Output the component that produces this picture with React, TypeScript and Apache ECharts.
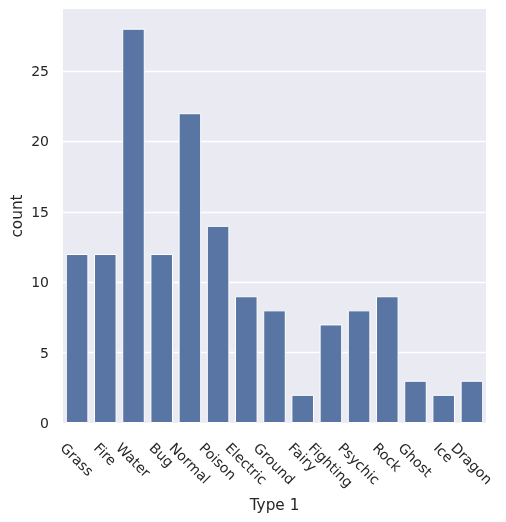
import React, { useEffect, useRef } from "react";
import * as echarts from "echarts";

const categories = ["Grass", "Fire", "Water", "Bug", "Normal", "Poison", "Electric", "Ground", "Fairy", "Fighting", "Psychic", "Rock", "Ghost", "Ice", "Dragon"];
const counts = [12, 12, 28, 12, 22, 14, 9, 8, 2, 7, 8, 9, 3, 2, 3];
const yTicks = { min: 0, max: 29.4, interval: 5 };

const FONT = "DejaVu Sans";
const TICK_SIZE = 14;
const LABEL_SIZE = 15.3;
const TEXT = "#262626";

function measure(text: string, size: number): number {
  const c = document.createElement("canvas");
  const ctx = c.getContext("2d");
  if (!ctx) return text.length * size * 0.6;
  ctx.font = `${size}px "${FONT}"`;
  return ctx.measureText(text).width;
}

export default function App() {
  const ref = useRef<HTMLDivElement>(null);
  useEffect(() => {
    if (!ref.current) return;
    const chart = echarts.init(ref.current, undefined, { renderer: "svg" });
    // matplotlib-style rotated labels: bbox centred on the tick, bbox top at a fixed pad
    const hm = TICK_SIZE * 1.164;
    const hz = TICK_SIZE;
    const pad = 16.5;
    const xData = categories.map((c) => {
      const w = measure(c, TICK_SIZE);
      const K = (pad + 0.354 * (w + hm)) / 1.414;
      const pl = Math.max(0, K - w / 2);
      const pt = Math.max(0, K - hz / 2);
      return {
        value: c,
        textStyle: { align: "left", verticalAlign: "top", padding: [pt, 0, 0, pl] },
      };
    });
    chart.setOption({
      animation: false,
      grid: {
        left: 63,
        right: 20,
        top: 9,
        bottom: 99,
        show: true,
        backgroundColor: "#EAEAF2",
        borderWidth: 0,
        outerBoundsMode: "none",
        containLabel: false,
      },
      xAxis: {
        type: "category",
        data: xData,
        name: "Type 1",
        nameLocation: "middle",
        nameGap: 82,
        nameMoveOverlap: false,
        nameTextStyle: { fontFamily: FONT, fontSize: LABEL_SIZE, color: TEXT, verticalAlign: "middle" },
        axisLine: { show: false },
        axisTick: { show: false },
        splitLine: { show: false },
        axisLabel: {
          interval: 0,
          rotate: -45,
          margin: 0,
          fontFamily: FONT,
          fontSize: TICK_SIZE,
          color: TEXT,
        },
      },
      yAxis: {
        type: "value",
        min: yTicks.min,
        max: yTicks.max,
        interval: yTicks.interval,
        name: "count",
        nameLocation: "middle",
        nameGap: 45.6,
        nameMoveOverlap: false,
        nameTextStyle: { fontFamily: FONT, fontSize: LABEL_SIZE, color: TEXT, verticalAlign: "middle" },
        axisLine: { show: false },
        axisTick: { show: false },
        axisLabel: {
          margin: 14,
          fontFamily: FONT,
          fontSize: TICK_SIZE,
          color: TEXT,
          showMaxLabel: false,
        },
        splitLine: { show: true, showMaxLine: false, lineStyle: { color: "#ffffff", width: 1.3 } },
      },
      series: [
        {
          type: "bar",
          data: counts,
          barWidth: "80%",
          itemStyle: { color: "#5975A4", borderColor: "#ffffff", borderWidth: 1 },
        },
      ],
    });
    return () => chart.dispose();
  }, []);
  return <div ref={ref} style={{ position: "fixed", left: 0, top: 0, width: 506, height: 522 }} />;
}
